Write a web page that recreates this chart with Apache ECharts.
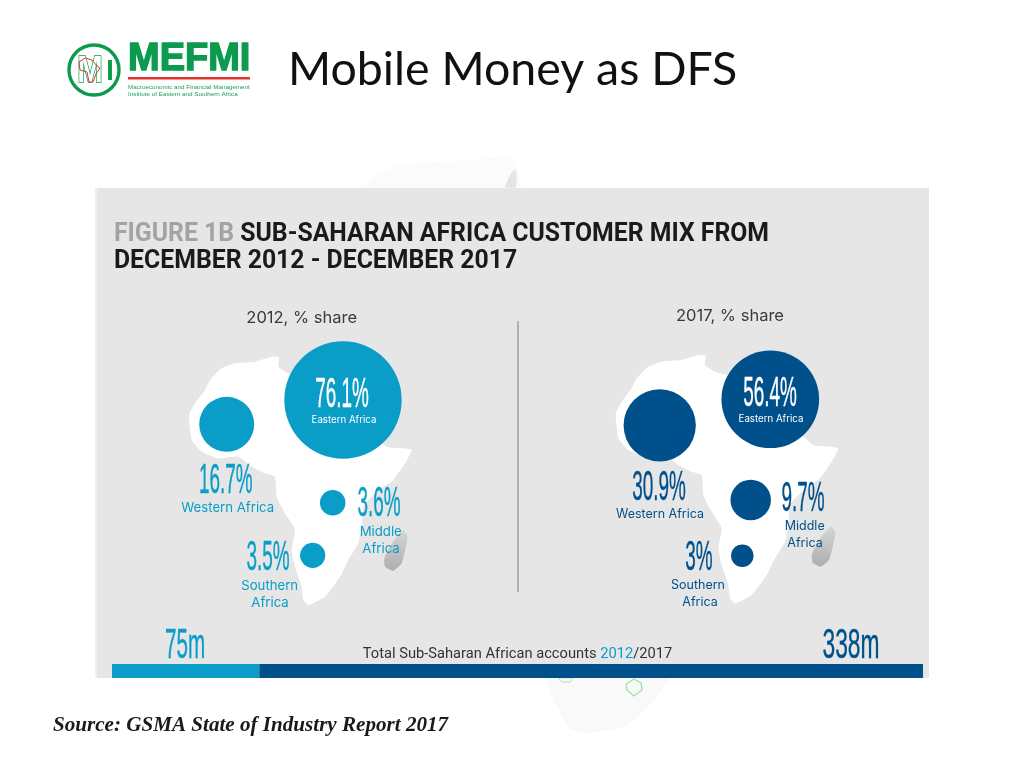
<!DOCTYPE html>
<html><head><meta charset="utf-8">
<style>html,body{margin:0;padding:0;background:#fff}#c{width:1024px;height:768px}</style>
<script src="https://cdn.jsdelivr.net/npm/echarts@6/dist/echarts.min.js"></script>
</head><body><div id="c"></div>
<script>
// ---- chart values ----
const regions = ['Eastern Africa', 'Western Africa', 'Middle Africa', 'Southern Africa'];
const share2012 = [76.1, 16.7, 3.6, 3.5];
const share2017 = [56.4, 30.9, 9.7, 3];
const years = ['2012', '2017'];
const accounts = [75, 338];

// ---- layout (map-space positions, separate from values) ----
const COL = { y2012: '#0a9dc8', y2017: '#00508c' };
const place2012 = [[343, 400], [226.7, 424.3], [332.7, 502.7], [312.7, 555.3]];
const place2017 = [[770.3, 399.3], [659.7, 425.3], [750.7, 500], [742.3, 555.7]];
const K2012 = 13.45, K2017 = 13.0;
const valueLabels2012 = [[342, 395], [225.7, 481], [379, 504], [268, 558]];
const valueLabels2017 = [[770, 394], [659, 488], [803, 499], [699, 558]];
const nameLabels2012 = [[[344, 420.5]], [[227.7, 508]], [[380.7, 532], [381, 549]], [[269.7, 586], [270, 603]]];
const nameLabels2017 = [[[771, 419.5]], [[660, 514]], [[804.7, 526], [805, 543]], [[698, 585], [700, 602]]];
const africa = [[282,345],[300,310],[330,270],[345,240],[380,205],[420,190],[480,185],[530,170],[552,172],[550,200],[580,220],[650,240],[700,280],[760,320],[830,400],[875,440],[925,445],[950,450],[930,490],[895,540],[860,565],[830,590],[805,620],[800,680],[790,730],[760,780],[735,830],[690,890],[640,915],[625,900],[620,860],[600,800],[590,750],[600,690],[570,640],[545,590],[540,530],[510,520],[470,500],[430,470],[370,475],[320,455],[290,420],[285,385]];
const madagascar = [[925,690],[938,710],[920,790],[895,812],[870,800],[868,775],[890,730]];

const SANS = 'Inter, "Open Sans", sans-serif';
const NARROW = '"Liberation Sans Narrow", "Liberation Sans", sans-serif';

function txt(text, x, y, font, fill, opt) {
  opt = opt || {};
  return { type: 'text', x, y, scaleX: opt.sx || 1, z: opt.z === undefined ? 50 : opt.z, silent: true,
    style: Object.assign({ text, x: 0, y: 0, font, fill, align: opt.align || 'center', verticalAlign: 'middle' }, opt.style || {}) };
}
function poly(points, fill, z, extra) {
  return Object.assign({ type: 'polygon', z, silent: true, shape: { points, smooth: 0.15 }, style: { fill } }, extra || {});
}
const fit = (ox, oy, dx, dy) => pts => pts.map(p => [ox + (p[0] + dx) / 3, oy + (p[1] + dy) / 3]);
const map12 = fit(95, 300, 0, 0), map17 = fit(520, 300, 5, -5), mad17 = fit(520, 300, 8, -12);
const madFill = { type: 'linear', x: 0, y: 0, x2: 0, y2: 1, colorStops: [{ offset: 0, color: '#d6d6d6' }, { offset: 1, color: '#aeaeae' }] };

const g = [];
// paper map peeking out behind the panel
g.push(poly([[360,188],[395,166],[470,160],[513,158],[520,188]], '#fbfbfb', 1));
g.push(poly([[505,187],[512,172],[516,170],[516,187]], '#e4e4e4', 1));
g.push(poly([[548,678],[559,710],[568,727],[585,733],[625,727],[648,707],[669,678]], '#f9f9f9', 1));
g.push({ type:'polygon', z:1, silent:true, shape:{points:[[634,679],[641,683],[642,690],[634,696],[627,690],[626,684]]}, style:{fill:'#f4fbf5',stroke:'#9fdcaa',lineWidth:1.2} });
g.push({ type:'polygon', z:1, silent:true, shape:{points:[[558,678],[573,678],[570,682],[562,682]]}, style:{fill:'#f4fbf5',stroke:'#b5e3bd',lineWidth:1} });
// panel
g.push({ type:'rect', z:1, silent:true, shape:{x:95,y:188,width:2,height:490}, style:{fill:'#f0f0f0'} });
g.push({ type:'rect', z:1, silent:true, shape:{x:97,y:188,width:832,height:490}, style:{fill:'#e6e6e6'} });
// africa silhouettes
g.push(poly(map12(africa), '#ffffff', 1));
g.push(poly(map17(africa), '#ffffff', 1));
g.push(poly(map12(madagascar), madFill, 1));
g.push(poly(mad17(madagascar), madFill, 1));
// divider
g.push({ type:'line', z:1, silent:true, shape:{x1:518,y1:321,x2:518,y2:592}, style:{stroke:'#7c7c7c',lineWidth:1} });
// logo
g.push({ type:'circle', z:3, silent:true, shape:{cx:94,cy:70,r:25}, style:{fill:'#fff',stroke:'#0c9b4e',lineWidth:3.4} });
g.push(txt('M', 90, 72, 'bold 36px "Liberation Sans"', '#ffffff', {sx:.85, style:{stroke:'#0c9b4e',lineWidth:1.6}}));
g.push(txt('I', 110, 72, 'bold 30px "Liberation Sans"', '#0c9b4e', {sx:.9}));
g.push({ type:'polygon', z:60, silent:true, shape:{points:[[79,62],[85,58],[92,60],[97,66],[100,68],[96,74],[93,82],[89,82],[87,72],[80,70]]}, style:{fill:'none',stroke:'#d9362f',lineWidth:1} });
g.push(txt('MEFMI', 128, 60, 'bold 38px "Liberation Sans"', '#0c9b4e', {align:'left', style:{stroke:'#0c9b4e',lineWidth:1.4}}));
g.push({ type:'rect', z:3, silent:true, shape:{x:128,y:77,width:122,height:2.6}, style:{fill:'#e0322e'} });
g.push(txt('Macroeconomic and Financial Management', 128, 87.5, '6.2px "Liberation Sans"', '#1aa05c', {align:'left', sx:1.015}));
g.push(txt('Institute of Eastern and Southern Africa', 128, 94.5, '6.2px "Liberation Sans"', '#1aa05c', {align:'left', sx:1.015}));
// figure heading
const HEAD = 'bold 26px Roboto';
g.push(txt('{g|FIGURE 1B} {k|SUB-SAHARAN AFRICA CUSTOMER MIX FROM}', 114, 234.5, HEAD, '#222', {align:'left', sx:.953, style:{rich:{
  g:{fill:'#a3a3a3',font:HEAD}, k:{fill:'#1a1a1a',font:HEAD}}}}));
g.push(txt('DECEMBER 2012 - DECEMBER 2017', 114, 261.5, HEAD, '#1a1a1a', {align:'left', sx:.953}));
// sub headings
g.push(txt(years[0] + ', % share', 301.7, 318, '16.5px ' + SANS, '#3a3a3a'));
g.push(txt(years[1] + ', % share', 730, 316, '16.5px ' + SANS, '#3a3a3a'));
// region labels
function regionLabels(shares, vals, names, color, smallSize) {
  regions.forEach((r, i) => {
    const white = i === 0;
    const c = white ? '#fff' : color;
    g.push(txt(shares[i] + '%', vals[i][0], vals[i][1], '43px ' + NARROW, c, {sx:.44, style:{stroke:c, lineWidth:.4}}));
    const parts = names[i].length === 2 ? r.split(' ') : [r];
    names[i].forEach((p, j) => g.push(txt(parts[j], p[0], p[1], (white ? '9.7px ' : smallSize + 'px ') + SANS, c)));
  });
}
regionLabels(share2012, valueLabels2012, nameLabels2012, COL.y2012, 13.2);
regionLabels(share2017, valueLabels2017, nameLabels2017, COL.y2017, 12.5);
// totals
g.push(txt(accounts[0] + 'm', 185, 646, '43px ' + NARROW, COL.y2012, {sx:.48, style:{stroke:COL.y2012, lineWidth:.4}}));
g.push(txt(accounts[1] + 'm', 851, 646, '43px ' + NARROW, COL.y2017, {sx:.53, style:{stroke:COL.y2017, lineWidth:.4}}));
g.push(txt('{k|Total Sub-Saharan African accounts }{a|' + years[0] + '}{k|/' + years[1] + '}', 517.5, 654, '14.7px Roboto', '#333', {style:{rich:{
  k:{fill:'#333',font:'14.7px Roboto'}, a:{fill:COL.y2012,font:'14.7px Roboto'}}}}));
// source
g.push(txt('Source: GSMA State of Industry Report 2017', 53, 726, 'italic bold 20px "Liberation Serif"', '#1a1a1a', {align:'left', sx:1.055}));

const bubbles = (name, shares, place, k, color) => ({
  type: 'scatter', name, xAxisIndex: 0, yAxisIndex: 0, z: 10,
  data: shares.map((s, i) => [place[i][0], place[i][1], s]),
  symbolSize: v => Math.sqrt(v[2]) * k,
  itemStyle: { color, opacity: 1 }, silent: true
});
const barSeries = (i, color) => ({
  type: 'bar', name: years[i] + ' accounts', xAxisIndex: 1, yAxisIndex: 1, stack: 'total', barWidth: '100%', z: 10,
  data: [accounts[i]], itemStyle: { color }, silent: true
});

const chart = echarts.init(document.getElementById('c'), null, { renderer: 'canvas' });
chart.setOption({
  animation: false,
  backgroundColor: '#fff',
  title: { text: 'Mobile Money as DFS', left: 288, top: 46, padding: 0,
    textStyle: { fontFamily: 'Lato', fontWeight: 'normal', fontSize: 46.5, color: '#111' } },
  graphic: { elements: g },
  grid: [
    { left: 0, top: 0, width: 1024, height: 768 },
    { left: 112, top: 664, width: 811, height: 14 }
  ],
  xAxis: [
    { type: 'value', gridIndex: 0, min: 0, max: 1024, show: false },
    { type: 'value', gridIndex: 1, min: 0, max: accounts[0] + accounts[1], show: false }
  ],
  yAxis: [
    { type: 'value', gridIndex: 0, min: 0, max: 768, inverse: true, show: false },
    { type: 'category', gridIndex: 1, data: ['accounts'], show: false }
  ],
  series: [
    bubbles('2012 share', share2012, place2012, K2012, COL.y2012),
    bubbles('2017 share', share2017, place2017, K2017, COL.y2017),
    barSeries(0, COL.y2012),
    barSeries(1, COL.y2017)
  ]
});
</script></body></html>
